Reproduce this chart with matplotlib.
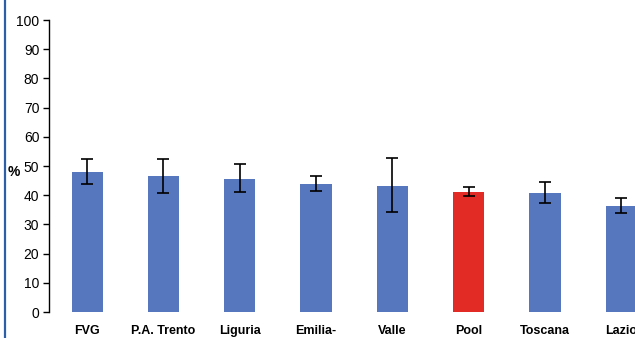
import matplotlib
matplotlib.use("Agg")
import matplotlib.pyplot as plt
from matplotlib.lines import Line2D
import numpy as np

plt.rcParams['font.family'] = ['Liberation Sans', 'DejaVu Sans']

regions = ["FVG", "P.A. Trento", "Liguria", "Emilia-", "Valle",
           "Pool", "Toscana", "Lazio"]
values = [47.9, 46.6, 45.5, 43.8, 43.2, 41.1, 40.8, 36.3]
ci_low = [43.8, 40.9, 41.1, 41.5, 34.4, 39.8, 37.3, 33.9]
ci_high = [52.4, 52.4, 50.7, 46.6, 52.8, 42.9, 44.6, 39.1]
y_ticks = [0, 10, 20, 30, 40, 50, 60, 70, 80, 90, 100]

W, H = 635, 338
fig = plt.figure(figsize=(W / 100, H / 100), dpi=100)

x0, x1 = 49, 49 + 8 * 76.3
yb, yt = 312, 20
ax = fig.add_axes([x0 / W, (H - yb) / H, (x1 - x0) / W, (yb - yt) / H])

x = np.arange(len(regions))
colors = ['#e32b26' if r == "Pool" else '#5677bd' for r in regions]
vals = np.array(values)
yerr = np.vstack([vals - np.array(ci_low), np.array(ci_high) - vals])
ax.bar(x, vals, width=0.41, color=colors, zorder=2)
ax.errorbar(x, vals, yerr=yerr, fmt='none', ecolor='black', elinewidth=1.2,
            capsize=4.5, capthick=1.2, zorder=3)

ax.set_xlim(-0.5, len(regions) - 0.5)
ax.set_ylim(0, 100)
ax.set_yticks(y_ticks)
ax.tick_params(axis='y', direction='out', length=4, width=1, pad=3,
               labelsize=10, colors='black')
ax.set_xticks(x)
ax.set_xticklabels(regions, fontsize=9, fontweight='bold', va='top')
ax.tick_params(axis='x', length=0, pad=9.5)

for s in ['top', 'right', 'bottom']:
    ax.spines[s].set_visible(False)
ax.spines['left'].set_linewidth(1)

fig.text(14 / W, (H - 172) / H, '%', fontsize=10, fontweight='bold',
         ha='center', va='center')

fig.add_artist(Line2D([4.5 / W, 4.5 / W], [0, 1], color='#2d5fa8', linewidth=1.6))

fig.savefig('out.png', dpi=100)
